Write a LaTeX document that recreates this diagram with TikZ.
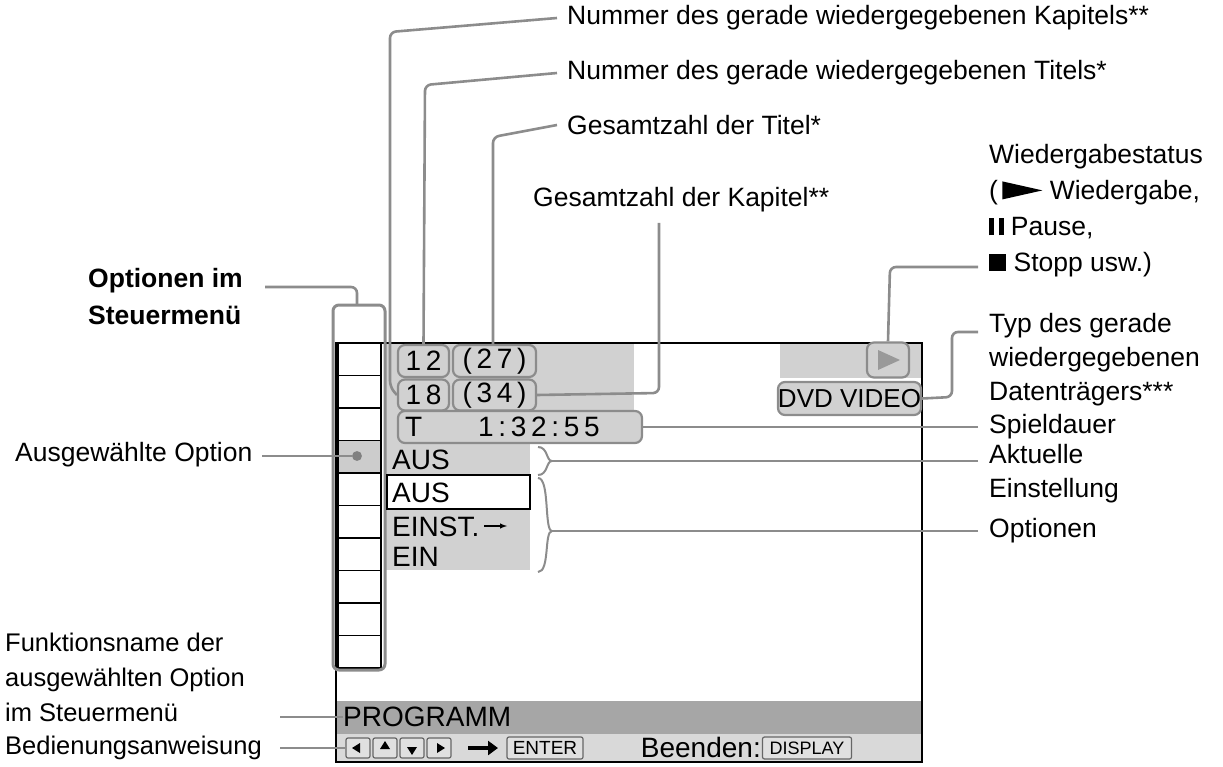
\documentclass[tikz,border=0pt]{standalone}
\usepackage{fontspec}
\setmainfont{Liberation Sans}
\usetikzlibrary{arrows.meta}
\begin{document}
\begin{tikzpicture}[x=1pt,y=-1pt,
  lbl/.style={anchor=west,inner sep=0pt,font=\fontsize{26.5}{34}\selectfont},
  scr/.style={inner sep=0pt,font=\fontsize{28}{32}\selectfont},
  ln/.style={draw=black!45,line width=2.6pt,rounded corners=6pt},
  rbox/.style={draw=black!45,line width=2.2pt,rounded corners=7pt,fill=black!18},
  sbtn/.style={draw=black!60,line width=1.2pt,rounded corners=2pt,fill=black!12}]
\useasboundingbox (0,0) rectangle (1223,767);
% screen
\fill[black!18] (385,343) rectangle (634,443);
\fill[black!18] (780,343) rectangle (922,378);
\fill[black!18] (385,443) rectangle (530,570);
\fill[black!35] (336,701) rectangle (922,734);
\fill[black!15] (336,734) rectangle (922,762);
\draw[line width=2.2pt] (336,343) rectangle (922,762);
% column
\fill[white] (338,343) rectangle (381,668);
\fill[black!20] (338,440) rectangle (381,472);
\foreach \k in {1,...,9} \draw[line width=1.6pt] (338,{343+32.5*\k}) -- (381,{343+32.5*\k});
\draw[line width=1.6pt] (338,343) rectangle (381,668);
\draw[draw=black!45,line width=3pt,rounded corners=6pt] (333,305) rectangle (385,670);
\node[circle,fill=black!50,inner sep=3.5pt] (dot) at (357,456) {};
% screen items
\node[rbox,minimum width=51,minimum height=32] (b12) at (423.5,361) {};
\node[scr] at (b12) {1\,2};
\node[rbox,minimum width=83,minimum height=32] (b27) at (494.5,361) {};
\node[scr] at (b27) {(\,2\,7\,)};
\node[rbox,minimum width=51,minimum height=31] (b18) at (423.5,395) {};
\node[scr] at (b18) {1\,8};
\node[rbox,minimum width=83,minimum height=31] (b34) at (494.5,395) {};
\node[scr] at (b34) {(\,3\,4\,)};
\node[rbox,minimum width=244,minimum height=32] (bt) at (520,427) {};
\node[scr,anchor=west] at (405,427) {T};
\node[scr,anchor=west] at (478,427) {1\,:\,3\,2\,:\,5\,5};
\node[rbox,minimum width=42,minimum height=35] (play) at (888,360) {};
\fill[black!40] (878,350) -- (900,360) -- (878,370) -- cycle;
\node[rbox,minimum width=141,minimum height=33,font=\fontsize{26}{30}\selectfont,inner sep=0pt] (dvd) at (849.5,398.5) {DVD VIDEO};
\node[scr,anchor=west] (aus1) at (392,460) {AUS};
\draw[fill=white,line width=1.4pt] (387,475) rectangle (530,509);
\node[scr,anchor=west] (aus2) at (392,493) {AUS};
\node[scr,anchor=west] (einst) at (392,527) {EINST.};
\draw[-latex,line width=1.4pt] (484,526) -- (507,526);
\node[scr,anchor=west] (ein) at (392,557) {EIN};
% braces
\draw[draw=black!45,line width=2pt] (538,447) .. controls (548,447) and (546,461) .. (552,461) .. controls (546,461) and (548,475) .. (538,475);
\coordinate (br1) at (552,461);
\draw[draw=black!45,line width=2pt] (538,478) .. controls (550,478) and (544,531) .. (552,531) .. controls (544,531) and (550,572) .. (538,572);
\coordinate (br2) at (552,531);
\node[scr,anchor=west] (prog) at (343,717) {PROGRAMM};
\foreach \i in {0,1,2,3} \node[sbtn,minimum width=24,minimum height=20] (k\i) at ({358+27*\i},748) {};
\fill (k0.center)++(-6,0) -- ++(8,-5) -- ++(0,10) -- cycle;
\fill (k1.center)++(0,-7) -- ++(5,8) -- ++(-10,0) -- cycle;
\fill (k2.center)++(0,7) -- ++(5,-8) -- ++(-10,0) -- cycle;
\fill (k3.center)++(6,0) -- ++(-8,-5) -- ++(0,10) -- cycle;
\draw[-{Triangle[length=10pt,width=14pt]},line width=4pt] (468,748) -- (498,748);
\node[sbtn,minimum width=76,minimum height=22,font=\fontsize{19}{22}\selectfont] (enter) at (545,748) {ENTER};
\node[scr,anchor=east] (been) at (761,747) {Beenden:};
\node[sbtn,minimum width=89,minimum height=22,font=\fontsize{18}{22}\selectfont] (disp) at (807,748) {DISPLAY};
% labels
\node[lbl] (t1) at (567,18) {Nummer des gerade wiedergegebenen Kapitels**};
\node[lbl] (t2) at (567,73) {Nummer des gerade wiedergegebenen Titels*};
\node[lbl] (t3) at (567,125) {Gesamtzahl der Titel*};
\node[lbl] (t4) at (533,200) {Gesamtzahl der Kapitel**};
\node[lbl,align=left,anchor=north west,font=\fontsize{26.5}{36}\selectfont] (t5) at (989,144) {Wiedergabestatus\\(\,\tikz[x=1pt,y=1pt]\fill (0,0)--(40,9)--(0,18)--cycle;\ Wiedergabe,\\\rule{5pt}{17pt}\,\rule{5pt}{17pt} Pause,\\\rule{17pt}{17pt} Stopp usw.)};
\node[lbl,align=left,anchor=north west,font=\fontsize{26.5}{34}\selectfont] (t6) at (989,313) {Typ des gerade\\wiedergegebenen\\Datenträgers***};
\node[lbl] (t7) at (989,427) {Spieldauer};
\node[lbl,align=left,anchor=north west] (t8) at (989,444) {Aktuelle\\Einstellung};
\node[lbl] (t9) at (989,531) {Optionen};
\node[lbl,align=left,anchor=north west,font=\bfseries\fontsize{26.5}{37}\selectfont] (t10) at (88,268) {Optionen im\\Steuermenü};
\node[lbl] (t11) at (15,455) {Ausgewählte Option};
\node[lbl,align=left,anchor=north west,font=\fontsize{25.5}{35}\selectfont] (t12) at (5,633) {Funktionsname der\\ausgewählten Option\\im Steuermenü};
\node[lbl,font=\fontsize{25.5}{30}\selectfont] (t13) at (5,748) {Bedienungsanweisung};
% connectors
\draw[ln] (t1.west)++(-10,0) -- (390,32) -- (390,387) -- (b18.west);
\draw[ln] (t2.west)++(-10,0) -- (425,85) -- (b12.north);
\draw[ln] (t3.west)++(-10,0) -- (493,137) -- (493,345);
\draw[ln] (659,223) -- (659,393) -- (b34.east);
\draw[ln] (978,267) -- (890,267) -- (play.north);
\draw[ln] (978,332) -- (952,332) -- (952,397) -- (dvd.east);
\draw[ln] (978,427) -- (bt.east);
\draw[ln] (978,461) -- (br1);
\draw[ln] (978,531) -- (br2);
\draw[ln] (265,287) -- (357,287) -- (357,305);
\draw[ln] (262,456) -- (dot);
\draw[ln] (280,717) -- (prog.west);
\draw[ln] (280,748) -- (k0.west);
\end{tikzpicture}
\end{document}
